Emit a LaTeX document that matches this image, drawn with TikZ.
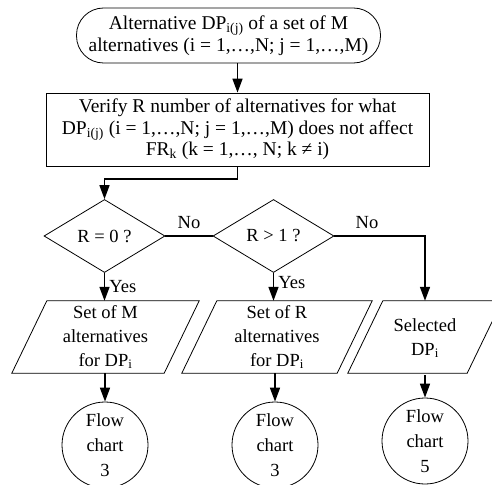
\documentclass[tikz,border=0pt]{standalone}
\usepackage{fontspec}
\setmainfont{Liberation Serif}
\usetikzlibrary{shapes.geometric,arrows.meta}
\begin{document}
\begin{tikzpicture}[x=1pt,y=-1pt,
  every node/.style={font=\fontsize{18.5}{21.5}\selectfont,align=center,inner sep=0pt},
  big/.style={font=\fontsize{19.5}{21.5}\selectfont},
  outline/.style={draw,line width=0.8pt},
  terminal/.style={outline,big,rectangle,rounded corners=27pt,minimum width=304pt,minimum height=55pt},
  process/.style={outline,big,rectangle,minimum width=383pt,minimum height=73pt},
  decision/.style={outline,diamond,minimum width=121pt,minimum height=73pt},
  iobody/.style={rectangle,minimum height=72pt,font=\fontsize{18.5}{24}\selectfont},
  connector/.style={outline,circle,minimum size=86pt,font=\fontsize{18.5}{25}\selectfont},
  flow/.style={line width=1.6pt,-{Triangle[length=14pt,width=10pt]}},
  line/.style={line width=1.6pt},
  lbl/.style={font=\fontsize{18.5}{20}\selectfont}]
\useasboundingbox (0,0) rectangle (492,484);

\node[terminal] (start) at (228.5,35.5)
  {Alternative DP\textsubscript{i(j)} of a set of M\\alternatives (i = 1,\ldots,N; j = 1,\ldots,M)};
\node[process] (verify) at (237.5,129.5)
  {Verify R number of alternatives for what\\DP\textsubscript{i(j)} (i = 1,\ldots,N; j = 1,\ldots,M) does not affect\\FR\textsubscript{k} (k = 1,\ldots, N; k ≠ i)};

\node[decision] (d1) at (104.5,236) {R = 0 ?};
\node[decision] (d2) at (273.5,236) {R > 1 ?};

% input/output boxes: the node holds the text, the slanted outline is drawn around it
\node[iobody,minimum width=117pt] (p1) at (105.5,337) {Set of M\\alternatives\\for DP\textsubscript{i}};
\node[iobody,minimum width=120pt] (p2) at (277,337) {Set of R\\alternatives\\for DP\textsubscript{i}};
\node[iobody,minimum width=84pt] (p3) at (425,338) {Selected\\DP\textsubscript{i}};
\foreach \p in {p1,p2}
  \draw[outline] ([xshift=-35pt]\p.south west) -- (\p.south east)
    -- ([xshift=35pt]\p.north east) -- (\p.north west) -- cycle;
\draw[outline] ([xshift=-35pt,yshift=1pt]p3.south west) -- ([yshift=1pt]p3.south east)
  -- ([xshift=35pt,yshift=1pt]p3.north east) -- ([yshift=1pt]p3.north west) -- cycle;

\node[connector] (c1) at (105,445) {Flow\\chart\\3};
\node[connector] (c2) at (275,445) {Flow\\chart\\3};
\node[connector] (c3) at (425,441) {Flow\\chart\\5};

\coordinate (bend) at (104.5,179);
\draw[flow] (start.south -| verify.north) -- (verify.north);
\draw[flow] (verify.south) |- (bend) -- (d1.north);
\draw[line] (d1.east) -- node[lbl,above=7pt] {No} (d2.west);
\draw[flow] (d2.east) -| node[lbl,pos=0.18,above=7pt] {No} ([yshift=1pt]p3.north);
\draw[flow] (d1.south) -- node[lbl,right=4pt,pos=0.5] {Yes} (d1.south |- p1.north);
\draw[flow] (d2.south) -- node[lbl,right=4pt,pos=0.33] {Yes} (d2.south |- p2.north);
\draw[flow] (p1.south -| c1) -- (c1);
\draw[flow] (p2.south -| c2) -- (c2);
\draw[flow] ([yshift=-1pt]p3.south -| c3) -- (c3);
\end{tikzpicture}
\end{document}
